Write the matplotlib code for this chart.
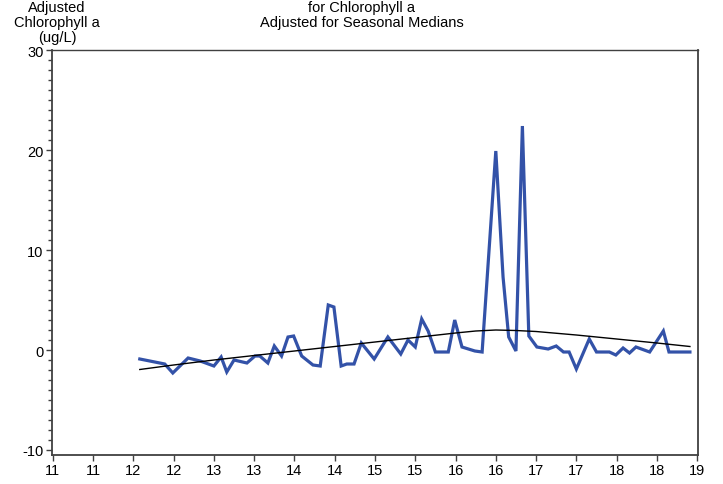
import matplotlib
matplotlib.use("Agg")
import matplotlib.pyplot as plt
from matplotlib.ticker import MultipleLocator

plt.rcParams["font.family"] = ["Liberation Sans", "DejaVu Sans"]
plt.rcParams["axes.unicode_minus"] = False

# adjusted chlorophyll a values (ug/L)
time_x = [12.08, 12.39, 12.49, 12.68, 12.83, 13.00, 13.09, 13.16, 13.25, 13.41,
          13.51, 13.57, 13.67, 13.75, 13.84, 13.92, 13.99, 14.09, 14.23, 14.32,
          14.42, 14.49, 14.58, 14.65, 14.74, 14.83, 14.90, 14.99, 15.16, 15.32,
          15.41, 15.50, 15.58, 15.66, 15.75, 15.91, 15.99, 16.08, 16.24, 16.33,
          16.50, 16.59, 16.66, 16.75, 16.83, 16.91, 17.01, 17.15, 17.25, 17.34,
          17.41, 17.50, 17.66, 17.75, 17.91, 17.99, 18.08, 18.16, 18.24, 18.41,
          18.58, 18.65, 18.91]
chl_adj = [-0.9, -1.4, -2.3, -0.8, -1.1, -1.6, -0.7, -2.2, -1.0, -1.3,
           -0.6, -0.6, -1.3, 0.4, -0.6, 1.3, 1.4, -0.6, -1.5, -1.6,
           4.5, 4.3, -1.6, -1.4, -1.4, 0.7, 0.0, -0.9, 1.3, -0.4,
           1.0, 0.3, 3.1, 1.9, -0.2, -0.2, 3.0, 0.3, -0.1, -0.2,
           19.9, 7.3, 1.3, -0.1, 22.4, 1.4, 0.3, 0.1, 0.4, -0.2,
           -0.2, -1.9, 1.1, -0.2, -0.2, -0.5, 0.2, -0.3, 0.3, -0.2,
           1.9, -0.2, -0.2]

# smooth trend curve
trend_x = [12.08, 12.5, 13.0, 13.5, 14.0, 14.5, 15.0, 15.5, 16.0, 16.25,
           16.5, 16.75, 17.0, 17.5, 18.0, 18.5, 18.91]
trend_y = [-1.95, -1.5, -1.0, -0.55, -0.1, 0.35, 0.8, 1.25, 1.7, 1.9,
           2.0, 1.95, 1.85, 1.5, 1.1, 0.7, 0.35]

xtick_pos = [11, 11.5, 12, 12.5, 13, 13.5, 14, 14.5, 15, 15.5, 16, 16.5,
             17, 17.5, 18, 18.5, 19]
xtick_labels = ["11", "11", "12", "12", "13", "13", "14", "14", "15", "15",
                "16", "16", "17", "17", "18", "18", "19"]
ytick_pos = [-10, 0, 10, 20, 30]

fig = plt.figure(figsize=(7.23, 4.85), dpi=100)
ax = fig.add_axes([0.0719, 0.0598, 0.8935, 0.835])

ax.plot(time_x, chl_adj, color="#3352A8", linewidth=2.3, solid_joinstyle="miter")
ax.plot(trend_x, trend_y, color="black", linewidth=1.0)

ax.set_xlim(10.99, 19.01)
ax.set_ylim(-10.5, 30)
ax.set_xticks(xtick_pos)
ax.set_xticklabels(xtick_labels)
ax.set_yticks(ytick_pos)
ax.yaxis.set_minor_locator(MultipleLocator(1))
ax.tick_params(axis="both", which="major", labelsize=10.5, length=4,
               width=1, color="#404040", pad=2)
ax.tick_params(axis="y", which="minor", length=3, width=1, color="#404040")

for side in ["left", "bottom", "right"]:
    ax.spines[side].set_color("#404040")
    ax.spines[side].set_linewidth(1.3)
ax.spines["top"].set_color("#404040")
ax.spines["top"].set_linewidth(1.0)

fig.text(0.5, 0.997, "for Chlorophyll a\nAdjusted for Seasonal Medians",
         ha="center", va="top", fontsize=10.5, linespacing=1.08)
fig.text(0.079, 0.997, "Adjusted\nChlorophyll a\n(ug/L)",
         ha="center", va="top", fontsize=10.5, linespacing=1.08)

fig.savefig("out.png", dpi=100)
plt.close(fig)
